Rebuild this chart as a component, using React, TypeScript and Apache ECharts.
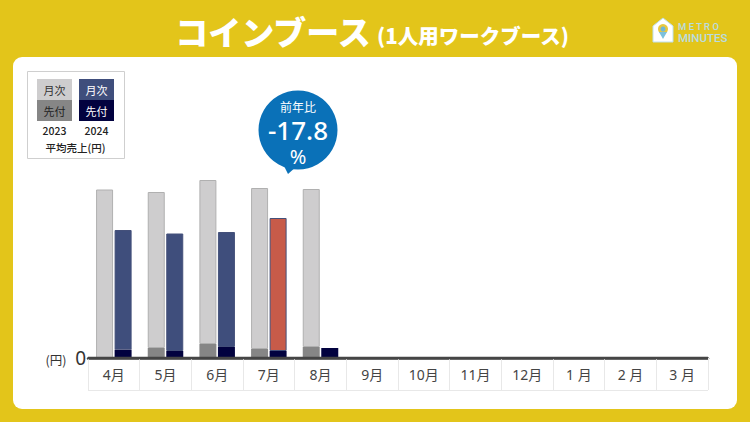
import React, { useEffect, useRef } from "react";
import * as echarts from "echarts";

const months = ["4月", "5月", "6月", "7月", "8月", "9月", "10月", "11月", "12月", "1 月", "2 月", "3 月"];
// Heights, in relative units (the axis shows only 0)
const advance2023 = [0, 10, 14, 9, 11, null, null, null, null, null, null, null];
const monthly2023 = [168.5, 156, 164, 161, 158, null, null, null, null, null, null, null];
const advance2024 = [8.5, 7, 11, 7, 10, null, null, null, null, null, null, null];
const monthly2024 = [119.5, 117.5, 115, 133, null, null, null, null, null, null, null, null];
const highlightIndex = 3;

const YELLOW = "#E3C51A";
const FONT = "'Noto Sans CJK JP', 'Noto Sans', sans-serif";

function txt(x: number, y: number, text: string, fontSize: number, fill: string, fontWeight: any = 400, align: string = "center", fontFamily: string = FONT) {
  return { type: "text", x, y, z: 10, style: { text, fontSize, fill, fontWeight, fontFamily, align, verticalAlign: "middle", lineHeight: fontSize } };
}
function rect(x: number, y: number, width: number, height: number, fill: string, extra: any = {}) {
  return { type: "rect", z: extra.z ?? 5, shape: { x, y, width, height, r: extra.r ?? 0 }, style: { fill, stroke: extra.stroke, lineWidth: extra.lineWidth } };
}

export default function App() {
  const ref = useRef<HTMLDivElement>(null);
  useEffect(() => {
    const chart = echarts.init(ref.current!, null, { renderer: "svg" });
    const bar = (name: string, stack: string, data: any[], color: string, border: string) => ({
      name, type: "bar", stack, data, barWidth: 17, barGap: "9%",
      itemStyle: { color, borderColor: border, borderWidth: border === "none" ? 0 : 1 },
      emphasis: { disabled: true },
    });
    chart.setOption({
      animation: false,
      backgroundColor: YELLOW,
      grid: { left: 88, right: 42, top: 158, bottom: 64, containLabel: false },
      xAxis: {
        type: "category",
        data: months,
        z: 3,
        axisLine: { lineStyle: { color: "#454545", width: 2.5 } },
        axisTick: { show: true, length: 32, lineStyle: { color: "#e8e8e8", width: 1 }, alignWithLabel: false },
        axisLabel: { color: "#444", fontSize: 14, fontFamily: "'Noto Sans', " + FONT, margin: 9, interval: 0 },
      },
      yAxis: {
        type: "value", min: 0, max: 200, interval: 200,
        axisLine: { show: false }, axisTick: { show: false }, splitLine: { show: false },
        axisLabel: { color: "#333", fontSize: 19, fontFamily: "'Noto Sans', " + FONT, margin: 2, formatter: (v: number) => (v === 0 ? "0" : "") },
      },
      series: [
        bar("先付 2023", "y2023", advance2023, "#868686", "none"),
        bar("月次 2023", "y2023", monthly2023, "#CECDCE", "#B0B0B0"),
        bar("先付 2024", "y2024", advance2024, "#02023F", "none"),
        bar("月次 2024", "y2024", monthly2024.map((v, i) =>
          i === highlightIndex ? { value: v, itemStyle: { color: "#C75B49", borderColor: "#44507A" } } : v), "#3F4E7C", "#44507A"),
      ],
      graphic: [
        rect(13, 57, 724, 352, "#ffffff", { r: 9, z: -1 }),
        txt(273, 31, "コインブース", 33, "#ffffff", 900),
        txt(473, 35, "(1人用ワークブース)", 20.5, "#ffffff", 900),
        { type: "polygon", z: 5, shape: { points: [[653, 26], [663, 18], [673, 26], [673, 42], [653, 42]] }, style: { fill: "#ffffff", stroke: "#BFE0EC", lineWidth: 1 } },
        { type: "circle", z: 6, shape: { cx: 663, cy: 29, r: 5 }, style: { fill: "#E8C840" } },
        { type: "circle", z: 6, shape: { cx: 663, cy: 29, r: 2.5 }, style: { fill: "#6FB7D6" } },
        { type: "polygon", z: 6, shape: { points: [[659, 32], [667, 32], [663, 39]] }, style: { fill: "#7CC0DC" } },
        txt(678, 26, "M E T R O", 9.5, "#B8DCE0", 500, "left", "Roboto"),
        txt(678, 38, "MINUTES", 11.5, "#B8DCE0", 500, "left", "Roboto"),
        rect(27.5, 71.5, 97, 87, "#ffffff", { stroke: "#cfcfcf", lineWidth: 1 }),
        rect(37, 79, 35, 21, "#CECDCE"),
        rect(37, 100, 35, 21, "#868686"),
        rect(79, 79, 35, 21, "#3F4E7C"),
        rect(79, 100, 35, 21, "#02023F"),
        txt(54.5, 90, "月次", 11, "#333"),
        txt(54.5, 110.5, "先付", 11, "#222"),
        txt(96.5, 90, "月次", 11, "#ffffff"),
        txt(96.5, 110.5, "先付", 11, "#ffffff"),
        txt(54.5, 130, "2023", 10.5, "#222", 500),
        txt(96.5, 130, "2024", 10.5, "#222", 500),
        txt(75.5, 147, "平均売上(円)", 10.5, "#222", 500),
        txt(56, 359, "(円)", 12.5, "#333"),
        { type: "line", z: 1, shape: { x1: 88, y1: 390.5, x2: 708, y2: 390.5 }, style: { stroke: "#e8e8e8", lineWidth: 1 } },
        { type: "line", z: 5, shape: { x1: 88, y1: 358, x2: 708, y2: 358 }, style: { stroke: "#454545", lineWidth: 2.5 } },
        { type: "circle", z: 5, shape: { cx: 298, cy: 130, r: 39.5 }, style: { fill: "#0A71B8" } },
        { type: "polygon", z: 5, shape: { points: [[284, 166], [297, 166], [288, 174]] }, style: { fill: "#0A71B8" } },
        txt(298, 106, "前年比", 12, "#ffffff"),
        txt(298, 130, "-17.8", 26, "#ffffff", 500, "center", "'Noto Sans'"),
        txt(298, 156, "%", 20, "#ffffff", 400, "center", "'Noto Sans'"),
      ],
    });
    return () => chart.dispose();
  }, []);
  return <div ref={ref} style={{ position: "fixed", left: 0, top: 0, width: 750, height: 422 }} />;
}
